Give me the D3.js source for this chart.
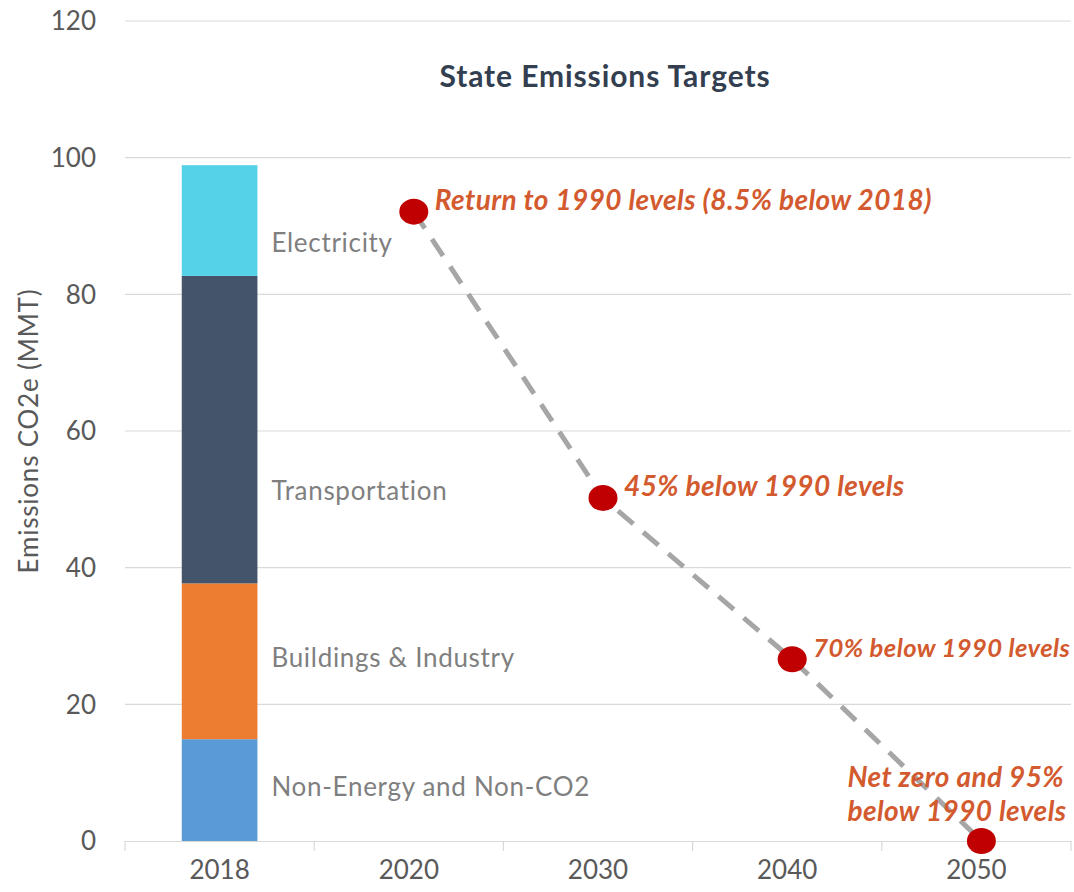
<!DOCTYPE html>
<html>
<head>
<meta charset="utf-8">
<script src="https://cdn.jsdelivr.net/npm/d3@7"></script>
<style>
  html, body { margin: 0; padding: 0; background: #fff; }
  svg { display: block; font-family: Lato, "Open Sans", sans-serif; }
</style>
</head>
<body>
<svg id="chart" width="1074" height="892"></svg>
<script>
// categories on the x axis
const years = ["2018", "2020", "2030", "2040", "2050"];

// 2018 stacked bar, bottom to top
const sectors = ["Non-Energy and Non-CO2", "Buildings & Industry", "Transportation", "Electricity"];
const sectorValues = [14.9, 22.8, 45.0, 16.2];
// where each sector's label sits, in MMT
const sectorLabelAt = [8.0, 26.8, 51.3, 87.5];
const sectorColors = ["#5b9bd5", "#ed7d31", "#44546a", "#56d2e6"];

// state targets
const targetYears = ["2020", "2030", "2040", "2050"];
const targetValues = [92.1, 50.2, 26.6, 0];
const targetNotes = [
  ["Return to 1990 levels (8.5% below 2018)"],
  ["45% below 1990 levels"],
  ["70% below 1990 levels"],
  ["Net zero and 95%", "below 1990 levels"]
];

const yTicks = [0, 20, 40, 60, 80, 100, 120];

const svg = d3.select("#chart");
const margin = { top: 21, right: 3, bottom: 51, left: 125 };
const width = +svg.attr("width");
const height = +svg.attr("height");

const x = d3.scaleBand().domain(years).range([margin.left, width - margin.right]).padding(0);
const y = d3.scaleLinear().domain([0, 120]).range([height - margin.bottom, margin.top]);

// gridlines
svg.append("g")
  .selectAll("line")
  .data(yTicks.filter((d) => d > 0))
  .join("line")
  .attr("x1", margin.left)
  .attr("x2", width - margin.right)
  .attr("y1", (d) => y(d))
  .attr("y2", (d) => y(d))
  .attr("stroke", "#d9d9d9")
  .attr("stroke-width", 1.2);

// y tick labels
svg.append("g")
  .selectAll("text")
  .data(yTicks)
  .join("text")
  .attr("x", margin.left - 29)
  .attr("y", (d) => y(d))
  .attr("dy", "0.36em")
  .attr("text-anchor", "end")
  .attr("font-size", 26)
  .attr("fill", "#595959")
  .text((d) => d);

// x axis
const xAxis = svg.append("g")
  .attr("transform", `translate(0, ${y(0)})`)
  .call(d3.axisBottom(x).tickSize(0).tickPadding(38));
xAxis.select(".domain").attr("stroke", "#d9d9d9").attr("stroke-width", 1.2);
xAxis.selectAll(".tick text")
  .attr("font-size", 26)
  .attr("font-family", "Lato, sans-serif")
  .attr("fill", "#595959")
  .attr("dy", "0");
xAxis.selectAll("line.sep")
  .data(d3.range(years.length + 1))
  .join("line")
  .attr("class", "sep")
  .attr("x1", (i) => margin.left + i * x.bandwidth())
  .attr("x2", (i) => margin.left + i * x.bandwidth())
  .attr("y1", 0)
  .attr("y2", 10)
  .attr("stroke", "#d9d9d9")
  .attr("stroke-width", 1.2);

// y axis title
svg.append("text")
  .attr("transform", `translate(38, ${(y(0) + y(120)) / 2}) rotate(-90)`)
  .attr("text-anchor", "middle")
  .attr("font-size", 26)
  .attr("letter-spacing", 0.8)
  .attr("fill", "#595959")
  .text("Emissions CO2e (MMT)");

// chart title
svg.append("text")
  .attr("x", 605)
  .attr("y", 87)
  .attr("text-anchor", "middle")
  .attr("font-size", 30)
  .attr("letter-spacing", 0.9)
  .attr("font-weight", "bold")
  .attr("fill", "#333f50")
  .text("State Emissions Targets");

// stacked bar
let acc = 0;
const stack = sectorValues.map((v, i) => {
  const seg = { name: sectors[i], y0: acc, y1: acc + v, color: sectorColors[i], labelAt: sectorLabelAt[i] };
  acc += v;
  return seg;
});
const barW = x.bandwidth() * 0.4;
const barX = x("2018") + (x.bandwidth() - barW) / 2;

svg.append("g")
  .selectAll("rect")
  .data(stack)
  .join("rect")
  .attr("x", barX)
  .attr("width", barW)
  .attr("y", (d) => y(d.y1))
  .attr("height", (d) => y(d.y0) - y(d.y1))
  .attr("fill", (d) => d.color);

svg.append("g")
  .selectAll("text")
  .data(stack)
  .join("text")
  .attr("x", barX + barW + 14)
  .attr("y", (d) => y(d.labelAt))
  .attr("dy", "0.36em")
  .attr("font-size", 26)
  .attr("letter-spacing", 0.7)
  .attr("fill", "#7f7f7f")
  .text((d) => d.name);

// target path
const targets = targetYears.map((yr, i) => ({ year: yr, value: targetValues[i], note: targetNotes[i] }));
const cx = (d) => x(d.year) + x.bandwidth() / 2 + 5;
const noteX = (d) => (d.note.length > 1 ? cx(d) - 134 : cx(d) + 21);

svg.append("path")
  .datum(targets)
  .attr("d", d3.line().x(cx).y((d) => y(d.value)))
  .attr("fill", "none")
  .attr("stroke", "#a6a6a6")
  .attr("stroke-width", 5)
  .attr("stroke-dasharray", "20,13");

svg.append("g")
  .selectAll("ellipse")
  .data(targets)
  .join("ellipse")
  .attr("cx", cx)
  .attr("cy", (d) => y(d.value))
  .attr("rx", 14.5)
  .attr("ry", 13)
  .attr("fill", "#c00000");

const noteSize = 28;
const notes = svg.append("g")
  .selectAll("text")
  .data(targets)
  .join("text")
  .attr("font-size", noteSize)
  .attr("letter-spacing", 0.4)
  .attr("font-weight", "bold")
  .attr("font-style", "italic")
  .attr("fill", "#d35a2e")
  .attr("x", noteX)
  .attr("y", (d) => (d.note.length > 1 ? y(d.value) - 54 : y(d.value) - 2));

notes.selectAll("tspan")
  .data((d) => d.note.map((line, i) => ({ line, i, x: noteX(d) })))
  .join("tspan")
  .attr("x", (t) => t.x)
  .attr("dy", (t) => (t.i === 0 ? 0 : 34))
  .text((t) => t.line);

// shrink a note that would run past the right edge
notes.each(function (d) {
  const box = this.getBBox();
  const room = width - 4 - noteX(d);
  if (box.width > room) {
    d3.select(this).attr("font-size", noteSize * room / box.width);
  }
});
</script>
</body>
</html>
